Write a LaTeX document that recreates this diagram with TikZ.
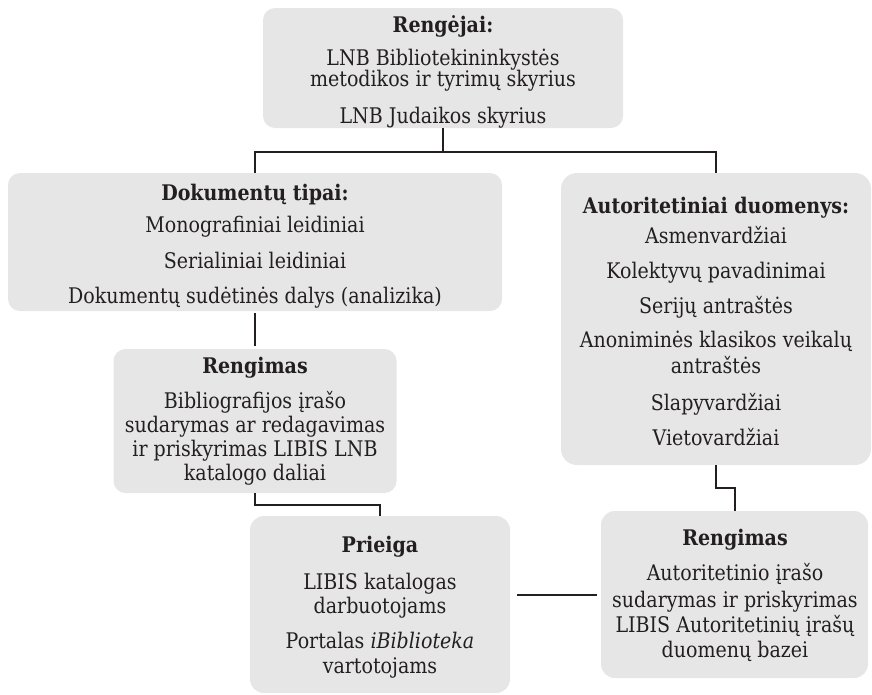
\documentclass[tikz,border=0pt]{standalone}
\usepackage{fontspec}
\setmainfont{DejaVu Serif}[FakeStretch=0.885]
\definecolor{boxgray}{RGB}{230,230,230}
\definecolor{ink}{RGB}{35,31,32}
\tikzset{
  box/.style={draw=none, fill=boxgray, rounded corners=12pt, inner sep=0pt},
  txt/.style={anchor=base, inner sep=0pt, text=ink, font=\fontsize{21.5}{25}\selectfont},
  hd/.style={txt, font=\fontsize{21.5}{25}\selectfont\bfseries},
  link/.style={draw=ink, line width=2pt}
}
\newcommand\linetxt[4]{\node[txt] (#1) at (#2,#3) {#4};}
\newcommand\headtxt[4]{\node[hd] (#1) at (#2,#3) {#4};}
\begin{document}
\begin{tikzpicture}[x=1pt,y=-1pt]
\useasboundingbox (0,0) rectangle (872,694);
% boxes
\node[box, minimum width=360pt, minimum height=120pt] (top) at (443,68) {};
\node[box, minimum width=494pt, minimum height=138pt] (dok) at (255,242) {};
\node[box, rounded corners=16pt, minimum width=310pt, minimum height=292pt] (aut) at (716,319) {};
\node[box, minimum width=283pt, minimum height=144pt] (reng1) at (255,421) {};
\node[box, rounded corners=14pt, minimum width=260pt, minimum height=177pt] (prie) at (380,604.5) {};
\node[box, rounded corners=14pt, minimum width=267pt, minimum height=167pt] (reng2) at (734.5,594.5) {};
% connectors
\coordinate (j) at (443,152);
\draw[link] (top.south) -- (j);
\draw[link] (dok.north) -- (dok.north |- j) -- (aut.north |- j) -- (aut.north);
\draw[link, shorten <=2pt, shorten >=3pt] (dok.south) -- (reng1.north);
\draw[link] (reng1.south) -- ++(0,12) -| (prie.north);
\draw[link] (aut.south) -- ++(0,23) -| (reng2.north);
\draw[link, shorten <=4pt, shorten >=7pt] (reng2.west) -- (reng2.west -| prie.east);
% top box
\headtxt{t0}{443}{32}{Rengėjai:}
\linetxt{t1}{443}{65}{LNB Bibliotekininkystės}
\linetxt{t2}{443}{86}{metodikos ir tyrimų skyrius}
\linetxt{t3}{443}{123}{LNB Judaikos skyrius}
% documents
\headtxt{d0}{255}{200}{Dokumentų tipai:}
\linetxt{d1}{255}{232}{Monografiniai leidiniai}
\linetxt{d2}{255}{268}{Serialiniai leidiniai}
\linetxt{d3}{255}{303}{Dokumentų sudėtinės dalys (analizika)}
% authority data
\headtxt{a0}{716}{213}{Autoritetiniai duomenys:}
\linetxt{a1}{716}{243}{Asmenvardžiai}
\linetxt{a2}{716}{278}{Kolektyvų pavadinimai}
\linetxt{a3}{716}{313}{Serijų antraštės}
\linetxt{a4}{716}{347}{Anoniminės klasikos veikalų}
\linetxt{a5}{716}{373}{antraštės}
\linetxt{a6}{716}{410}{Slapyvardžiai}
\linetxt{a7}{716}{445}{Vietovardžiai}
% rengimas 1
\headtxt{r0}{255}{373}{Rengimas}
\linetxt{r1}{255}{408}{Bibliografijos įrašo}
\linetxt{r2}{255}{432}{sudarymas ar redagavimas}
\linetxt{r3}{255}{456}{ir priskyrimas LIBIS LNB}
\linetxt{r4}{255}{480}{katalogo daliai}
% prieiga
\headtxt{p0}{380}{552}{Prieiga}
\linetxt{p1}{380}{589}{LIBIS katalogas}
\linetxt{p2}{380}{613}{darbuotojams}
\linetxt{p3}{380}{648}{Portalas \textit{iBiblioteka}}
\linetxt{p4}{380}{673}{vartotojams}
% rengimas 2
\headtxt{s0}{735}{545}{Rengimas}
\linetxt{s1}{735}{580}{Autoritetinio įrašo}
\linetxt{s2}{735}{607}{sudarymas ir priskyrimas}
\linetxt{s3}{735}{632}{LIBIS Autoritetinių įrašų}
\linetxt{s4}{735}{657}{duomenų bazei}
\end{tikzpicture}
\end{document}
